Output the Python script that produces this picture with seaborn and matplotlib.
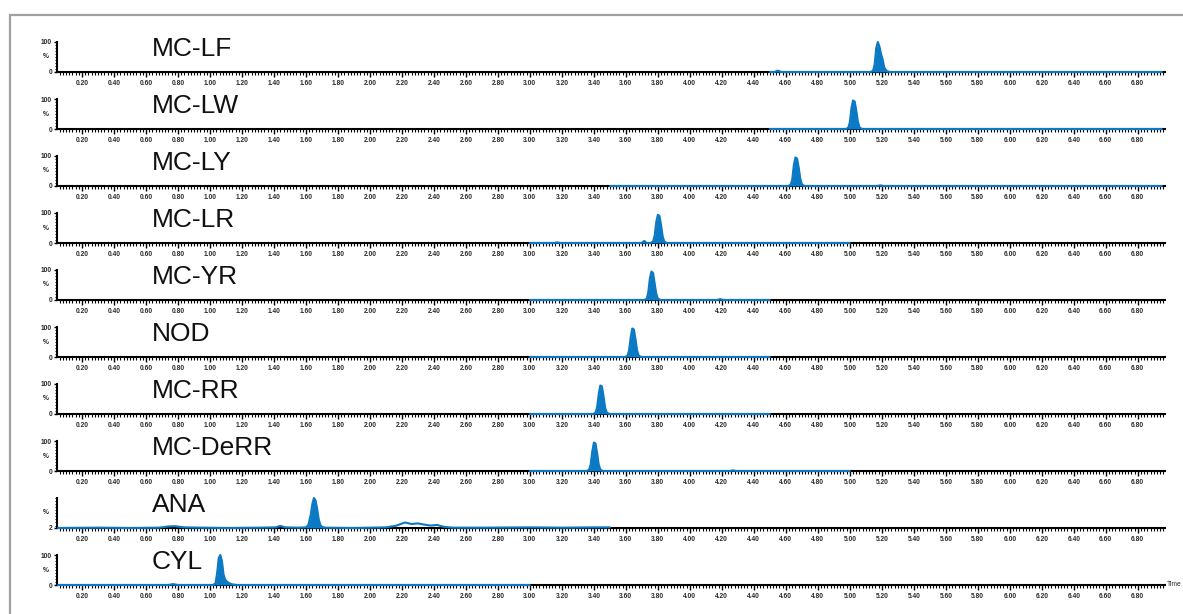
import numpy as np
import matplotlib
matplotlib.use("Agg")
import matplotlib.pyplot as plt
import seaborn as sns
from matplotlib.ticker import MultipleLocator, FixedLocator, NullFormatter
from matplotlib.patches import Rectangle

# ---------------- data ----------------
names = ["MC-LF", "MC-LW", "MC-LY", "MC-LR", "MC-YR", "NOD", "MC-RR", "MC-DeRR", "ANA", "CYL"]

lf_t = [4.50, 4.53, 4.545, 4.555, 4.57, 5.13, 5.145, 5.155, 5.165, 5.175, 5.185, 5.195, 5.205, 5.215, 5.23, 5.25, 6.95]
lf_y = [0, 0, 4, 4, 0, 0, 4, 25, 80, 100, 85, 60, 42, 15, 3, 0, 0]

lw_t = [4.50, 4.975, 4.99, 5.00, 5.01, 5.02, 5.03, 5.04, 5.05, 5.06, 5.075, 6.95]
lw_y = [0, 0, 4, 22, 70, 95, 92, 62, 25, 6, 0, 0]

ly_t = [3.50, 4.615, 4.63, 4.64, 4.65, 4.66, 4.67, 4.68, 4.69, 4.70, 4.715, 5.17, 5.19, 5.21, 6.95]
ly_y = [0, 0, 4, 22, 70, 95, 92, 62, 25, 6, 0, 0, 2, 0, 0]

lr_t = [3.00, 3.15, 3.17, 3.19, 3.70, 3.715, 3.73, 3.755, 3.77, 3.78, 3.79, 3.80, 3.81, 3.82, 3.83, 3.84, 3.855, 5.00]
lr_y = [0, 0, 2, 0, 0, 7, 0, 0, 5, 25, 70, 94, 90, 60, 22, 5, 0, 0]

yr_t = [3.00, 3.715, 3.73, 3.74, 3.75, 3.76, 3.77, 3.78, 3.79, 3.80, 3.815, 4.17, 4.19, 4.21, 4.50]
yr_y = [0, 0, 4, 25, 72, 95, 90, 55, 20, 5, 0, 0, 3, 0, 0]

nod_t = [3.00, 3.595, 3.61, 3.62, 3.63, 3.64, 3.65, 3.66, 3.67, 3.68, 3.695, 4.50]
nod_y = [0, 0, 4, 22, 65, 95, 92, 60, 22, 5, 0, 0]

rr_t = [3.00, 3.395, 3.41, 3.42, 3.43, 3.44, 3.45, 3.46, 3.47, 3.48, 3.495, 4.50]
rr_y = [0, 0, 4, 22, 65, 95, 92, 60, 22, 5, 0, 0]

derr_t = [3.00, 3.355, 3.37, 3.38, 3.39, 3.40, 3.41, 3.42, 3.43, 3.44, 3.455, 4.25, 4.27, 4.29, 5.00]
derr_y = [0, 0, 4, 22, 65, 95, 92, 60, 22, 5, 0, 0, 2, 0, 0]

ana_t = [0.05, 0.30, 0.50, 0.68, 0.74, 0.78, 0.84, 0.95, 1.10, 1.30, 1.41, 1.44, 1.47, 1.55, 1.60, 1.615,
         1.63, 1.64, 1.65, 1.66, 1.67, 1.68, 1.69, 1.70, 1.72, 1.90, 2.10, 2.16, 2.22, 2.26, 2.30, 2.34,
         2.38, 2.42, 2.46, 2.52, 2.70, 3.00, 3.20, 3.40, 3.50]
ana_y = [2, 3, 2, 3, 7, 8, 4, 3, 2, 3, 4, 9, 4, 3, 4, 12,
         45, 80, 100, 92, 65, 30, 12, 6, 3, 2, 4, 9, 20, 15, 17, 13,
         10, 12, 6, 3, 3, 4, 3, 4, 4]
ana_fill = (1.60, 1.72)

cyl_t = [0.05, 0.74, 0.77, 0.80, 1.02, 1.035, 1.045, 1.055, 1.065, 1.075, 1.085, 1.095, 1.105, 1.12, 1.14, 1.17, 3.00]
cyl_y = [0, 0, 3, 0, 0, 6, 40, 90, 100, 80, 35, 18, 12, 6, 2, 0, 0]

traces_t = [lf_t, lw_t, ly_t, lr_t, yr_t, nod_t, rr_t, derr_t, ana_t, cyl_t]
traces_y = [lf_y, lw_y, ly_y, lr_y, yr_y, nod_y, rr_y, derr_y, ana_y, cyl_y]

tick_labels = ["%.2f" % (0.2 * k) for k in range(1, 35)]

# ---------------- style ----------------
sns.set_theme(style="white")
plt.rcParams["font.family"] = ["Liberation Sans", "DejaVu Sans"]
BLUE = "#0b79c4"

W, H = 1183, 614
fig = plt.figure(figsize=(W / 100, H / 100), dpi=100)
fig.patch.set_facecolor("white")

# outer gray frame
fig.patches.append(Rectangle((10 / W, -0.1), 1.2, 1 - 15 / H + 0.1, transform=fig.transFigure,
                             fill=False, edgecolor="#a0a0a0", lw=1.6, zorder=0))

x0_px, x1_px = 57, 1165
xmin, xmax = 0.044, 6.97
for i, name in enumerate(names):
    base_px = 72 + 57 * i
    top_px = 42 + 57 * i
    ax = fig.add_axes([x0_px / W, 1 - base_px / H, (x1_px - x0_px) / W, (base_px - top_px) / H])
    ax.set_facecolor("none")
    t = np.array(traces_t[i], dtype=float)
    y = np.array(traces_y[i], dtype=float)
    is_ana = name == "ANA"
    if is_ana:
        ax.set_ylim(2, 100)
        m = (t >= ana_fill[0]) & (t <= ana_fill[1])
        ax.fill_between(t[m], 2, y[m], color=BLUE, lw=0, zorder=2)
    else:
        ax.set_ylim(0, 100)
        ax.fill_between(t, 0, y, color=BLUE, lw=0, zorder=2)
    sns.lineplot(x=t, y=y, ax=ax, color=BLUE, lw=1.5, zorder=3, clip_on=False)
    ax.set_xlim(xmin, xmax)
    for s in ["top", "right"]:
        ax.spines[s].set_visible(False)
    for s in ["left", "bottom"]:
        ax.spines[s].set_color("black")
        ax.spines[s].set_linewidth(1.5)
        ax.spines[s].set_zorder(1)
    ax.xaxis.set_major_locator(FixedLocator([0.2 * k for k in range(1, 35)]))
    ax.set_xticklabels(tick_labels, fontweight="bold")
    ax.xaxis.set_minor_locator(MultipleLocator(0.02))
    ax.tick_params(axis="x", which="both", bottom=True, top=False)
    ax.tick_params(axis="y", which="both", left=True, right=False)
    ax.tick_params(axis="x", which="major", direction="out", length=3.5, width=1.0, color="black",
                   labelsize=4.8, pad=2.5, labelcolor="#2a2a2a")
    ax.tick_params(axis="x", which="minor", direction="out", length=2, width=0.8, color="black")
    if is_ana:
        ax.yaxis.set_major_locator(FixedLocator([2]))
        ax.set_yticklabels(["2"], fontweight="bold")
    else:
        ax.yaxis.set_major_locator(FixedLocator([0, 100]))
        ax.set_yticklabels(["0", "100"], fontweight="bold")
    ax.yaxis.set_minor_locator(MultipleLocator(10))
    ax.yaxis.set_minor_formatter(NullFormatter())
    ax.tick_params(axis="y", which="major", direction="out", length=2.5, width=1.0, color="black",
                   labelsize=4.8, pad=1, labelcolor="#2a2a2a")
    ax.tick_params(axis="y", which="minor", direction="out", length=1.5, width=0.7, color="black")
    ax.set_xlabel("")
    ax.set_ylabel("")
    ax.text(-0.007, 0.5, "%", transform=ax.transAxes, ha="right", va="center", fontsize=4.8,
            fontweight="bold", color="#2a2a2a")
    ax.text((152 - x0_px) / (x1_px - x0_px), 0.78, name, transform=ax.transAxes, ha="left",
            va="center", fontsize=19, color="#111111")
    if i == len(names) - 1:
        ax.text(1.002, 0.0, "Time", transform=ax.transAxes, ha="left", va="center",
                fontsize=4.8, color="#2a2a2a", clip_on=False)

fig.savefig("out.png", dpi=100, facecolor="white")
